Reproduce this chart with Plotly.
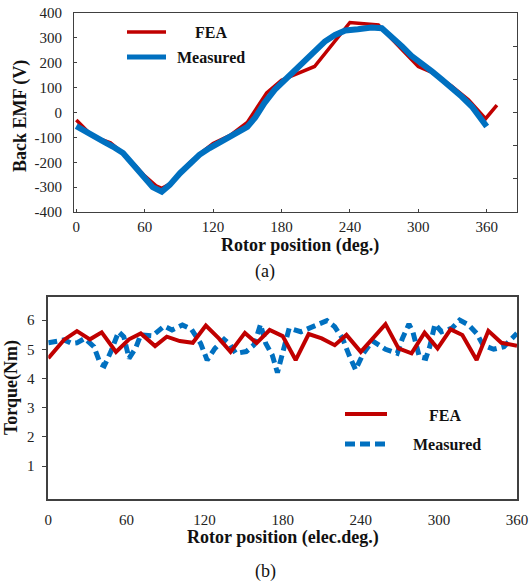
import plotly.graph_objects as go

# ---------- (a) Back EMF ----------
emf_fea_pos = [0, 6, 12, 20, 30, 40, 50, 60, 70, 75, 82, 91, 100, 110, 120, 135, 150, 167, 180, 209, 240, 265, 300, 312, 329, 344, 359, 369]
emf_fea_val = [-30, -58, -85, -105, -122, -160, -205, -255, -295, -305, -288, -244, -200, -160, -125, -92, -40, 79, 130, 185, 362, 352, 185, 161, 107, 51, -25, 30]

emf_meas_pos = [0, 6, 12, 18, 24, 32, 41, 50, 59, 67, 75, 82, 91, 100, 108, 117, 126, 135, 143, 150, 157, 165, 174, 183, 192, 201, 209, 218, 227, 236, 247, 259, 268, 277, 286, 294, 303, 312, 321, 329, 338, 347, 354, 360]
emf_meas_val = [-55, -72, -90, -103, -117, -137, -163, -210, -257, -300, -318, -291, -244, -203, -170, -143, -121, -100, -80, -58, -20, 38, 91, 131, 172, 212, 252, 285, 312, 330, 335, 342, 339, 305, 265, 228, 199, 165, 131, 102, 64, 24, -23, -56]

emf_xticks = [0, 60, 120, 180, 240, 300, 360]
emf_yticks = [-400, -300, -200, -100, 0, 100, 200, 300, 400]

# ---------- (b) Torque ----------
tq_fea_pos = [0, 12, 22, 32, 41, 52, 62, 71, 82, 91, 101, 111, 121, 131, 140, 151, 160, 170, 180, 190, 200, 210, 220, 229, 240, 259, 269, 279, 289, 299, 309, 318, 329, 338, 348, 360]
tq_fea_val = [4.69, 5.32, 5.62, 5.34, 5.58, 4.91, 5.34, 5.54, 5.11, 5.43, 5.28, 5.22, 5.81, 5.37, 4.91, 5.56, 5.21, 5.66, 5.45, 4.63, 5.52, 5.37, 5.14, 5.49, 4.91, 5.86, 5.03, 4.86, 5.57, 5.03, 5.68, 5.49, 4.63, 5.63, 5.22, 5.12]

tq_meas_pos = [0, 6, 12, 18, 22, 28, 35, 40, 43, 48, 54, 58, 62, 67, 71, 80, 89, 95, 103, 110, 117, 122, 128, 135, 140, 144, 152, 158, 163, 167, 172, 176, 181, 185, 194, 200, 206, 214, 220, 226, 231, 236, 242, 249, 259, 268, 272, 277, 280, 282, 285, 290, 293, 297, 302, 310, 316, 323, 329, 334, 342, 350, 357, 360]
tq_meas_val = [5.22, 5.26, 5.32, 5.2, 5.22, 5.37, 5.09, 4.5, 4.43, 4.91, 5.6, 5.43, 4.69, 5.03, 5.49, 5.46, 5.79, 5.66, 5.83, 5.68, 5.2, 4.63, 5.03, 5.34, 5.14, 4.86, 4.92, 5.15, 5.85, 5.2, 4.8, 4.2, 4.97, 5.72, 5.6, 5.72, 5.86, 5.98, 5.77, 5.37, 4.8, 4.3, 4.86, 5.29, 5.0, 4.86, 5.37, 5.86, 5.6, 5.2, 4.74, 4.69, 5.09, 5.86, 5.6, 5.72, 6.0, 5.83, 5.54, 5.14, 5.0, 5.09, 5.45, 5.55]

tq_xticks = [0, 60, 120, 180, 240, 300, 360]
tq_yticks = [1, 2, 3, 4, 5, 6]

RED = "#C00000"
BLUE = "#0070C0"
SERIF = "Liberation Serif, Times New Roman, serif"
AX = "#404040"

W, H = 530, 583

def px_x(p):
    return p / W

def px_y(p):
    return 1 - p / H

fig = go.Figure()

fig.add_trace(go.Scatter(x=emf_fea_pos, y=emf_fea_val, mode="lines",
                         line=dict(color=RED, width=3.5), xaxis="x", yaxis="y", showlegend=False))
fig.add_trace(go.Scatter(x=emf_meas_pos, y=emf_meas_val, mode="lines",
                         line=dict(color=BLUE, width=6), xaxis="x", yaxis="y", showlegend=False))

fig.add_trace(go.Scatter(x=tq_meas_pos, y=tq_meas_val, mode="lines",
                         line=dict(color=BLUE, width=5, dash="9px,5px"), xaxis="x2", yaxis="y3", showlegend=False))
fig.add_trace(go.Scatter(x=tq_fea_pos, y=tq_fea_val, mode="lines",
                         line=dict(color=RED, width=4), xaxis="x2", yaxis="y3", showlegend=False))

# invisible trace to activate yaxis2 (right-side ticks)
fig.add_trace(go.Scatter(x=[None], y=[None], xaxis="x", yaxis="y2", showlegend=False, hoverinfo="skip"))

tickfont = dict(family=SERIF, size=15, color="#222")

fig.update_layout(
    width=W, height=H,
    margin=dict(l=0, r=0, t=0, b=0, autoexpand=False),
    paper_bgcolor="white", plot_bgcolor="white",
    xaxis=dict(domain=[px_x(74), px_x(517)], range=[-2, 386.6], anchor="y",
               tickvals=emf_xticks, ticks="inside", ticklen=3, tickcolor=AX,
               showline=True, linecolor=AX, linewidth=1, mirror=True, automargin=False,
               showgrid=False, zeroline=False, tickfont=tickfont, ticklabelstandoff=1),
    yaxis=dict(domain=[px_y(212), px_y(13)], range=[-400, 400], anchor="x",
               tickvals=emf_yticks, ticktext=[str(v) for v in emf_yticks],
               ticks="inside", ticklen=3, tickcolor=AX, automargin=False,
               showline=True, linecolor=AX, linewidth=1, mirror=True,
               showgrid=False, zeroline=False, tickfont=tickfont, ticklabelstandoff=8),
    yaxis2=dict(domain=[px_y(212), px_y(13)], range=[0, 6], overlaying="y", side="right",
                anchor="x", tickvals=[1, 2, 3, 4, 5], showticklabels=False, automargin=False,
                ticks="inside", ticklen=4, tickcolor=AX, showgrid=False, zeroline=False,
                showline=False),
    xaxis2=dict(domain=[px_x(48.3), px_x(517)], range=[0, 360], anchor="y3",
                tickvals=tq_xticks, ticks="", showline=True, linecolor=AX, linewidth=1.5,
                mirror=True, showgrid=False, zeroline=False, tickfont=tickfont,
                ticklabelstandoff=6, automargin=False),
    yaxis3=dict(domain=[px_y(499.3), px_y(297)], range=[-0.14, 6.79], anchor="x2",
                tickvals=tq_yticks, ticks="outside", ticklen=5, tickcolor=AX,
                showline=True, linecolor=AX, linewidth=1.5, mirror=True, automargin=False,
                showgrid=False, zeroline=False, tickfont=tickfont, ticklabelstandoff=4),
)

bold = dict(family=SERIF, size=18, color="#111")
leg = dict(family=SERIF, size=16, color="#111")
anns = [
    dict(text="<b>Back EMF (V)</b>", x=px_x(20), y=px_y(116), textangle=-90),
    dict(text="<b>Rotor position (deg.)</b>", x=px_x(300), y=px_y(245)),
    dict(text="(a)", x=px_x(265), y=px_y(271), font=dict(family=SERIF, size=18, color="#111")),
    dict(text="<b>Torque(Nm)</b>", x=px_x(11), y=px_y(388), textangle=-90),
    dict(text="<b>Rotor position (elec.deg.)</b>", x=px_x(283), y=px_y(537)),
    dict(text="(b)", x=px_x(265), y=px_y(571), font=dict(family=SERIF, size=18, color="#111")),
    dict(text="<b>FEA</b>", x=px_x(211), y=px_y(33), font=leg),
    dict(text="<b>Measured</b>", x=px_x(211), y=px_y(58), font=leg),
    dict(text="<b>FEA</b>", x=px_x(445), y=px_y(415), font=leg),
    dict(text="<b>Measured</b>", x=px_x(447), y=px_y(444), font=leg),
]
for a in anns:
    a.setdefault("font", bold)
    fig.add_annotation(xref="paper", yref="paper", showarrow=False,
                       xanchor="center", yanchor="middle", **a)

shapes = [
    dict(x0=px_x(127), x1=px_x(166), y0=px_y(32), y1=px_y(32), line=dict(color=RED, width=3.5)),
    dict(x0=px_x(127), x1=px_x(166), y0=px_y(57), y1=px_y(57), line=dict(color=BLUE, width=5)),
    dict(x0=px_x(345), x1=px_x(387), y0=px_y(414), y1=px_y(414), line=dict(color=RED, width=4)),
    dict(x0=px_x(345), x1=px_x(387), y0=px_y(444), y1=px_y(444), line=dict(color=BLUE, width=5, dash="10px,5px")),
]
for s in shapes:
    fig.add_shape(type="line", xref="paper", yref="paper", **s)

fig.write_html("out.html")
